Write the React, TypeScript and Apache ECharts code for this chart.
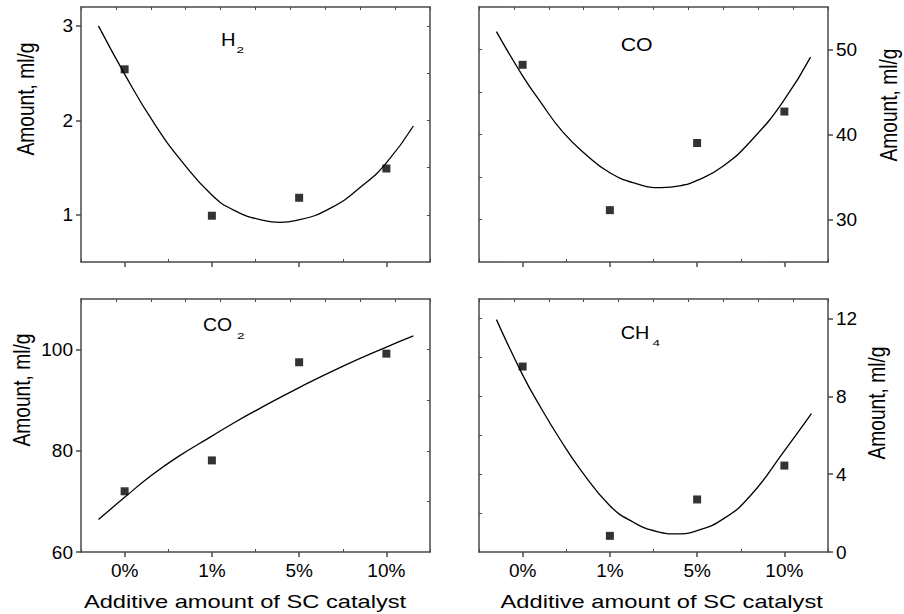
import React, { useEffect, useRef } from 'react';
import * as echarts from 'echarts';

// ---------- data ----------
const categories = ['0%', '1%', '5%', '10%'];
const categoryIndex = [0, 1, 2, 3];

const h2Measured = [2.54, 0.99, 1.18, 1.49];
const coMeasured = [48.2, 31.1, 39.0, 42.7];
const co2Measured = [72.0, 78.1, 97.5, 99.2];
const ch4Measured = [9.53, 0.83, 2.7, 4.44];

const h2CurveX = [-0.3, 0, 0.33, 0.66, 1.0, 1.25, 1.59, 1.78, 1.97, 2.36, 2.74, 3.0, 3.31];
const h2CurveY = [3.0, 2.49, 1.98, 1.56, 1.21, 1.05, 0.94, 0.92, 0.94, 1.07, 1.32, 1.55, 1.94];

const coCurveX = [-0.3, 0, 0.2, 0.46, 0.73, 1.0, 1.31, 1.59, 1.8, 2.0, 2.3, 2.64, 3.0, 3.3];
const coCurveY = [52.1, 46.9, 43.9, 40.3, 37.6, 35.5, 34.2, 33.75, 33.95, 34.6, 36.3, 39.5, 44.1, 49.1];

const co2CurveX = [-0.3, 0, 0.29, 0.6, 1.0, 1.25, 1.52, 2.0, 2.51, 3.0, 3.31];
const co2CurveY = [66.4, 70.8, 74.9, 78.7, 82.9, 85.5, 88.1, 92.5, 96.8, 100.5, 102.7];

const ch4CurveX = [-0.3, 0, 0.2, 0.43, 0.66, 1.0, 1.27, 1.54, 1.77, 2.0, 2.3, 2.61, 3.0, 3.31];
const ch4CurveY = [11.94, 9.1, 7.48, 5.78, 4.25, 2.38, 1.53, 1.05, 0.93, 1.1, 1.7, 2.89, 5.2, 7.11];

const h2Ticks = [1, 2, 3];
const h2MinorTicks = [1, 1.5, 2, 2.5, 3];
const coTicks = [30, 40, 50];
const coMinorTicks = [30, 35, 40, 45, 50];
const co2Ticks = [60, 80, 100];
const co2MinorTicks = [70, 80, 90, 100];
const ch4Ticks = [0, 4, 8, 12];
const ch4MinorTicks = [2, 4, 6, 8, 10, 12];

const xTitle = 'Additive amount of SC catalyst';
const yTitle = 'Amount, ml/g';

// ---------- styling ----------
const FONT = '"Liberation Sans", Arial, Helvetica, sans-serif';
const AXIS = '#4a4a4a';

type Panel = {
  left: number; top: number; width: number; height: number;
  yPos: 'left' | 'right';
  min: number; max: number;
  ticks: number[]; minor: number[];
  measured: number[]; cx: number[]; cy: number[];
  showX: boolean;
};

const panels: Panel[] = [
  { left: 81, top: 7, width: 349, height: 255, yPos: 'left', min: 0.5, max: 3.2, ticks: h2Ticks, minor: h2MinorTicks, measured: h2Measured, cx: h2CurveX, cy: h2CurveY, showX: false },
  { left: 479, top: 7, width: 349, height: 255, yPos: 'right', min: 25, max: 55, ticks: coTicks, minor: coMinorTicks, measured: coMeasured, cx: coCurveX, cy: coCurveY, showX: false },
  { left: 81, top: 299, width: 349, height: 253, yPos: 'left', min: 60, max: 110, ticks: co2Ticks, minor: co2MinorTicks, measured: co2Measured, cx: co2CurveX, cy: co2CurveY, showX: true },
  { left: 479, top: 299, width: 349, height: 253, yPos: 'right', min: 0, max: 13, ticks: ch4Ticks, minor: ch4MinorTicks, measured: ch4Measured, cx: ch4CurveX, cy: ch4CurveY, showX: true },
];

function buildOption() {
  const grid: any[] = [];
  const xAxis: any[] = [];
  const yAxis: any[] = [];
  const series: any[] = [];
  const line = { show: true, onZero: false, lineStyle: { color: AXIS, width: 1.5 } };
  const noLine = { show: false, onZero: false };

  panels.forEach((p, i) => {
    grid.push({ left: p.left, top: p.top, width: p.width, height: p.height, containLabel: false });
    xAxis.push({
      type: 'category', gridIndex: i, data: categories, position: 'bottom', boundaryGap: true,
      axisLine: line,
      axisTick: { show: true, alignWithLabel: true, length: 5, lineStyle: { color: AXIS, width: 1.5 } },
      axisLabel: { show: p.showX, fontSize: 19, color: '#000', margin: 9, fontFamily: FONT },
      splitLine: { show: false },
    });
    xAxis.push({
      type: 'value', gridIndex: i, position: 'bottom', min: -0.5, max: 3.5, interval: 1,
      axisLine: noLine,
      axisTick: { show: true, inside: true, length: 3, lineStyle: { color: AXIS, width: 1 } },
      axisLabel: { show: false }, splitLine: { show: false },
    });
    xAxis.push({
      type: 'value', gridIndex: i, position: 'top', min: 0, max: 10, interval: 1,
      axisLine: line,
      axisTick: { show: true, inside: true, length: 3, lineStyle: { color: AXIS, width: 1 } },
      axisLabel: { show: false }, splitLine: { show: false },
    });
    yAxis.push({
      type: 'value', gridIndex: i, position: p.yPos, min: p.min, max: p.max,
      axisLine: line,
      axisTick: { show: true, length: 5, customValues: p.ticks, lineStyle: { color: AXIS, width: 1.5 } },
      axisLabel: { show: true, customValues: p.ticks, fontSize: 19, color: '#000', margin: 8, fontFamily: FONT },
      splitLine: { show: false },
    });
    yAxis.push({
      type: 'value', gridIndex: i, position: p.yPos === 'left' ? 'right' : 'left', min: p.min, max: p.max,
      axisLine: line,
      axisTick: { show: true, inside: true, length: 3, customValues: p.minor, lineStyle: { color: AXIS, width: 1 } },
      axisLabel: { show: false }, splitLine: { show: false },
    });
    series.push({
      type: 'line', xAxisIndex: 3 * i + 1, yAxisIndex: 2 * i, smooth: 0.5, showSymbol: false, symbol: 'none',
      lineStyle: { color: '#000', width: 1.3 },
      data: p.cx.map((x, k) => [x, p.cy[k]]),
      silent: true, z: 2,
    });
    series.push({
      type: 'scatter', xAxisIndex: 3 * i + 1, yAxisIndex: 2 * i, symbol: 'rect', symbolSize: 8,
      itemStyle: { color: '#000' },
      data: categoryIndex.map((x, k) => [x, p.measured[k]]),
      silent: true, z: 3,
    });
  });

  const txt = (text: string, x: number, y: number, fontSize: number, extra: any = {}, align = 'left') => ({
    type: 'text', x, y, ...extra,
    style: {
      text, fontSize, fontFamily: FONT, fill: '#000',
      align, textAlign: align, verticalAlign: 'middle', textVerticalAlign: 'middle',
    },
  });

  const graphic: any[] = [
    // panel labels
    txt('H', 221, 39.5, 18, { scaleX: 1.12 }),
    txt('2', 236.5, 50.3, 9, { scaleX: 1.5 }),
    txt('CO', 620.7, 45, 18.5, { scaleX: 1.15 }),
    txt('CO', 203, 325, 18.5, { scaleX: 1.05 }),
    txt('2', 237, 335.5, 9, { scaleX: 1.5 }),
    txt('CH', 620.7, 333, 18, { scaleX: 1.1 }),
    txt('4', 652.5, 342.8, 9, { scaleX: 1.5 }),
    // y titles
    txt(yTitle, 26, 99, 19.2, { rotation: Math.PI / 2, scaleY: 1.28 }, 'center'),
    txt(yTitle, 889, 105, 19.2, { rotation: Math.PI / 2, scaleY: 1.2 }, 'center'),
    txt(yTitle, 22, 390, 19.2, { rotation: Math.PI / 2, scaleY: 1.28 }, 'center'),
    txt(yTitle, 877, 403, 19.2, { rotation: Math.PI / 2, scaleY: 1.28 }, 'center'),
    // x titles
    txt(xTitle, 245, 601.5, 18.5, { scaleX: 1.28 }, 'center'),
    txt(xTitle, 661.7, 601.5, 18.5, { scaleX: 1.28 }, 'center'),
  ];

  return {
    animation: false,
    backgroundColor: '#fff',
    grid, xAxis, yAxis, series, graphic,
  };
}

export default function App() {
  const ref = useRef<HTMLDivElement>(null);
  useEffect(() => {
    if (!ref.current) return;
    const chart = echarts.init(ref.current, undefined, { renderer: 'svg' });
    chart.setOption(buildOption() as any);
    return () => chart.dispose();
  }, []);
  return <div ref={ref} style={{ position: 'fixed', left: 0, top: 0, width: 904, height: 614 }} />;
}
